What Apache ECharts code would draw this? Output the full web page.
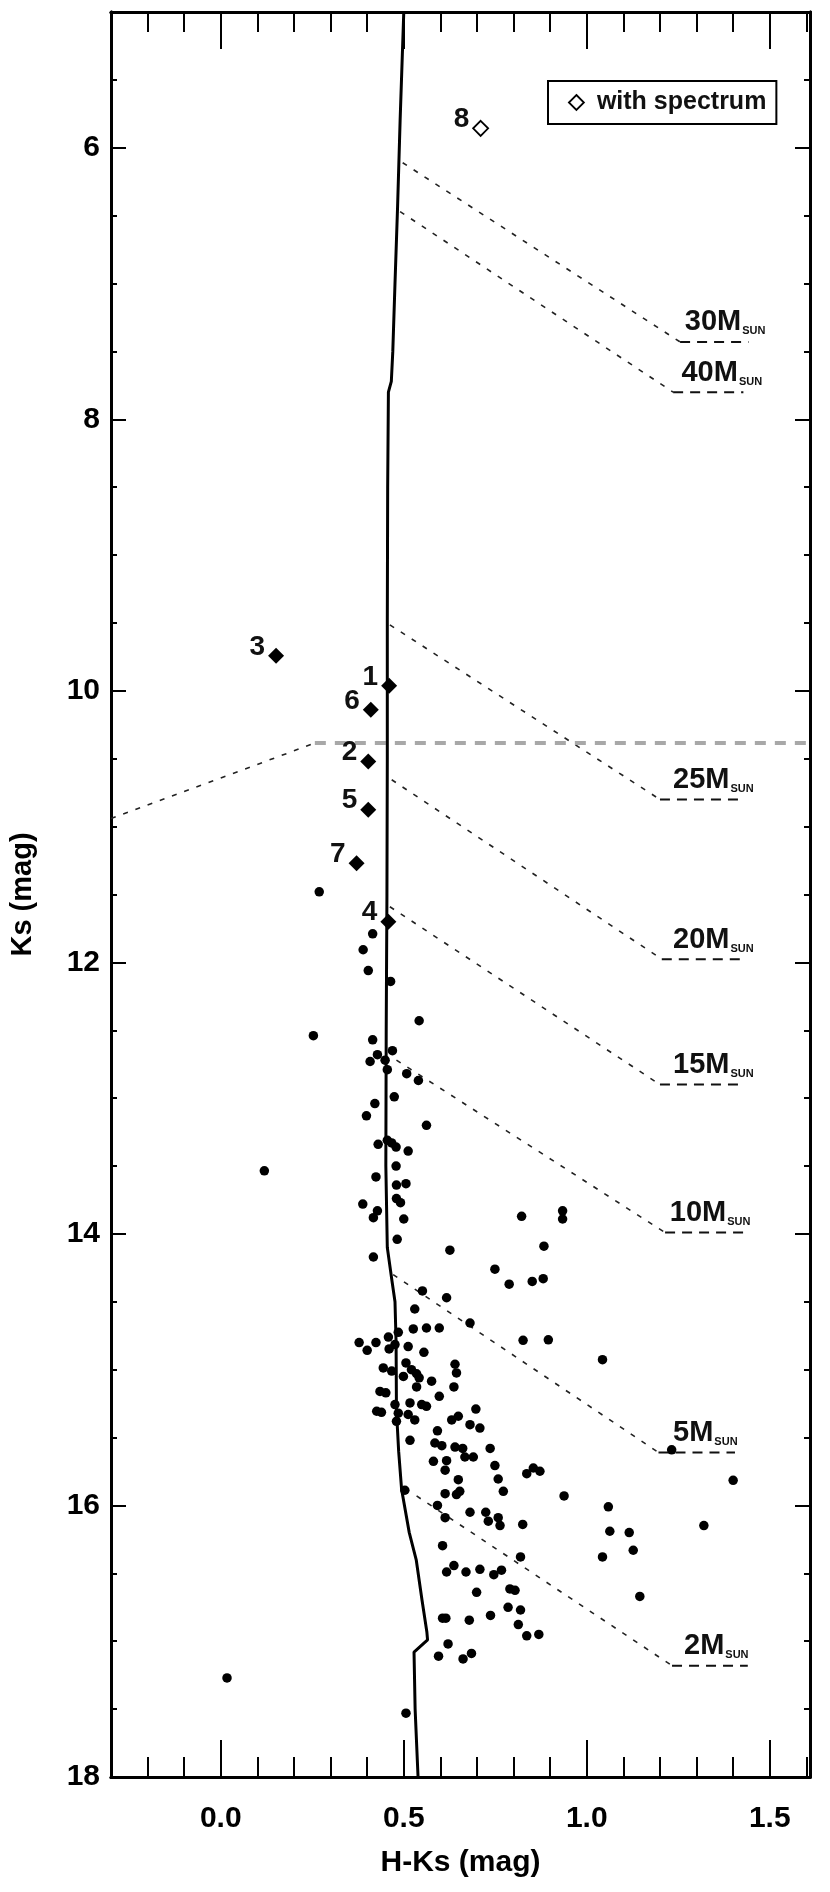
<!DOCTYPE html>
<html>
<head>
<meta charset="utf-8">
<script src="https://cdn.jsdelivr.net/npm/echarts@6/dist/echarts.min.js"></script>
<style>
html,body{margin:0;padding:0;background:#fff;}
#chart{width:830px;height:1892px;}
</style>
</head>
<body>
<div id="chart"></div>
<script>
// ---------------- data ----------------
const xRange = [-0.3, 1.61];
const yRange = [5, 18];
const xMajorTicks = [0.0, 0.5, 1.0, 1.5];
const xMinorTicks = [-0.2,-0.1,0.1,0.2,0.3,0.4,0.6,0.7,0.8,0.9,1.1,1.2,1.3,1.4,1.6];
const yMajorTicks = [6, 8, 10, 12, 14, 16, 18];
const yMinorTicks = [5.5,6.5,7,7.5,8.5,9,9.5,10.5,11,11.5,12.5,13,13.5,14.5,15,15.5,16.5,17,17.5];

// isochrone (H-Ks, Ks)
const isochrone = [[0.500,5.0],[0.490,5.8],[0.483,6.44],[0.476,7.0],[0.470,7.5],[0.466,7.72],[0.458,7.8],
  [0.456,8.5],[0.455,9.5],[0.455,10.5],[0.454,11.5],[0.452,12.5],[0.451,13.5],[0.455,14.1],[0.468,14.35],
  [0.476,14.5],[0.479,14.8],[0.480,15.3],[0.486,15.6],[0.494,15.88],[0.515,16.2],[0.534,16.4],[0.550,16.7],
  [0.563,16.93],[0.565,16.99],[0.528,17.08],[0.531,17.5],[0.539,18.0]];

// mass tracks
const massNames   = ['30', '40', '25', '20', '15', '10', '5', '2'];
const trackStartX = [0.497, 0.490, 0.462, 0.467, 0.462, 0.480, 0.471, 0.535];
const trackStartK = [6.11, 6.47, 9.514, 10.655, 11.59, 12.72, 14.30, 15.93];
const trackEndX   = [1.255, 1.236, 1.200, 1.205, 1.200, 1.214, 1.196, 1.233];
const trackEndK   = [7.43, 7.80, 10.80, 11.976, 12.90, 13.99, 15.61, 17.18];
const underlineEndX = [1.442, 1.428, 1.430, 1.430, 1.430, 1.430, 1.405, 1.440];
const massLabelX  = [1.268, 1.259, 1.236, 1.236, 1.236, 1.227, 1.236, 1.266];

// foreground extinction limit lines
const greyLimit = [[0.257, 10.385], [1.61, 10.385]];
const leftLimit = [[-0.3, 10.94], [0.257, 10.385]];

// numbered stars (filled diamonds)
const starNames = ['1','2','3','4','5','6','7'];
const starX = [0.460, 0.403, 0.151, 0.458, 0.403, 0.410, 0.371];
const starK = [9.963, 10.52, 9.742, 11.70, 10.876, 10.14, 11.27];
// star with spectrum
const specNames = ['8'];
const specX = [0.710];
const specK = [5.857];

// field stars
const fieldStars = [
[0.269,11.48],[0.119,13.535],
[0.415,11.79],[0.389,11.907],[0.403,12.06],[0.464,12.14],[0.542,12.43],[0.253,12.54],[0.415,12.57],[0.469,12.65],
[0.428,12.68],[0.408,12.73],[0.449,12.72],[0.455,12.79],[0.508,12.82],[0.540,12.87],[0.474,12.99],[0.421,13.04],
[0.398,13.13],[0.562,13.20],[0.430,13.34],[0.455,13.31],[0.467,13.33],[0.479,13.36],[0.512,13.39],[0.479,13.50],
[0.424,13.58],[0.480,13.64],[0.506,13.63],[0.388,13.78],[0.480,13.74],[0.491,13.77],[0.428,13.83],[0.417,13.88],
[0.500,13.89],[0.822,13.87],[0.934,13.83],[0.934,13.89],[0.482,14.04],[0.883,14.09],[0.626,14.12],[0.417,14.17],
[0.749,14.26],[0.788,14.37],[0.851,14.35],[0.881,14.33],[0.551,14.42],[0.617,14.47],
[0.530,14.553],[0.681,14.656],[0.562,14.693],[0.597,14.693],[0.526,14.70],[0.485,14.725],[0.458,14.76],[0.378,14.80],
[0.424,14.80],[0.476,14.815],[0.512,14.83],[0.400,14.857],[0.460,14.847],[0.555,14.872],[0.826,14.784],[0.895,14.78],
[1.043,14.926],[0.640,14.96],[0.444,14.987],[0.467,15.01],[0.506,14.95],[0.521,15.00],[0.535,15.03],[0.644,15.024],
[0.499,15.05],[0.542,15.06],[0.576,15.085],[0.535,15.127],[0.637,15.127],[0.435,15.16],[0.451,15.17],[0.597,15.196],
[0.476,15.257],[0.517,15.245],[0.549,15.257],[0.562,15.27],[0.426,15.306],[0.439,15.314],[0.485,15.32],[0.512,15.33],
[0.530,15.37],[0.480,15.38],[0.697,15.29],[0.631,15.37],[0.649,15.343],[0.681,15.405],[0.708,15.43],[0.592,15.45],
[0.517,15.52],[0.585,15.54],[0.604,15.56],[0.640,15.57],[0.661,15.58],[0.736,15.58],[1.232,15.59],[0.581,15.675],
[0.617,15.67],[0.667,15.643],[0.690,15.643],[0.749,15.706],[0.613,15.74],[0.836,15.766],[0.854,15.724],[0.872,15.748],
[0.649,15.81],[0.758,15.805],[1.400,15.815],[0.613,15.913],[0.644,15.92],[0.653,15.896],[0.772,15.896],[0.938,15.93],
[0.503,15.888],[0.592,16.0],[0.681,16.05],[0.724,16.05],[0.758,16.09],[1.059,16.01],[0.613,16.09],[0.731,16.116],
[0.763,16.148],[0.825,16.14],[1.063,16.19],[1.116,16.2],[1.320,16.148],[0.606,16.296],[1.127,16.33],[0.819,16.379],
[1.043,16.379],[0.617,16.49],[0.637,16.443],[0.670,16.49],[0.708,16.47],[0.746,16.51],[0.767,16.477],[0.699,16.64],
[0.790,16.615],[0.804,16.625],[1.145,16.67],
[0.606,16.83],[0.615,16.83],[0.679,16.845],[0.737,16.81],[0.785,16.75],[0.819,16.77],[0.813,16.877],[0.836,16.96],
[0.869,16.95],[0.621,17.02],[0.595,17.11],[0.662,17.13],[0.685,17.09],[0.017,17.27],[0.506,17.53]
];

// ---------------- chart ----------------
const FONT = '"Liberation Sans", Arial, Helvetica, sans-serif';
const chart = echarts.init(document.getElementById('chart'), null, {renderer: 'canvas'});

function xAx(pos, values, len, withLabels) {
  const a = {
    type: 'value', min: xRange[0], max: xRange[1], position: pos,
    axisLine: {show: true, onZero: false, lineStyle: {color: '#000', width: 3}},
    axisTick: {show: true, inside: true, length: len, customValues: values, lineStyle: {color: '#000', width: 2}},
    axisLabel: {show: false},
    splitLine: {show: false}
  };
  if (withLabels) {
    a.axisLabel = {show: true, customValues: xMajorTicks, formatter: v => Number(v).toFixed(1),
      fontFamily: FONT, fontSize: 30, fontWeight: 'bold', color: '#000', margin: 27};
    a.name = 'H-Ks (mag)';
    a.nameLocation = 'middle';
    a.nameGap = 71;
    a.nameTextStyle = {fontFamily: FONT, fontSize: 30, fontWeight: 'bold', color: '#000'};
  }
  return a;
}
function yAx(pos, values, len, withLabels) {
  const a = {
    type: 'value', min: yRange[0], max: yRange[1], inverse: true, position: pos,
    axisLine: {show: true, onZero: false, lineStyle: {color: '#000', width: 3}},
    axisTick: {show: true, inside: true, length: len, customValues: values, lineStyle: {color: '#000', width: 2}},
    axisLabel: {show: false},
    splitLine: {show: false}
  };
  if (withLabels) {
    a.axisLabel = {show: true, customValues: yMajorTicks, formatter: v => String(v),
      fontFamily: FONT, fontSize: 30, fontWeight: 'bold', color: '#000', margin: 11};
    a.name = 'Ks (mag)';
    a.nameLocation = 'middle';
    a.nameGap = 74;
    a.nameTextStyle = {fontFamily: FONT, fontSize: 29, fontWeight: 'bold', color: '#000'};
  }
  return a;
}

const series = [];
const thinDash = {color: '#222', width: 1.6, type: [5, 8]};
// mass track diagonals and underlines
massNames.forEach((m, i) => {
  series.push({type: 'line', name: 'track' + m, symbol: 'none', silent: true, z: 2,
    data: [[trackStartX[i], trackStartK[i]], [trackEndX[i], trackEndK[i]]],
    lineStyle: thinDash});
  series.push({type: 'line', name: 'under' + m, symbol: 'none', silent: true, z: 2,
    data: [[trackEndX[i], trackEndK[i]], [underlineEndX[i], trackEndK[i]]],
    lineStyle: {color: '#111', width: 2, type: [10, 7]}});
});
series.push({type: 'line', name: 'greyLimit', symbol: 'none', silent: true, z: 2, data: greyLimit,
  lineStyle: {color: '#a8a8a8', width: 4, type: [11, 9]}});
series.push({type: 'line', name: 'leftLimit', symbol: 'none', silent: true, z: 2, data: leftLimit,
  lineStyle: thinDash});
// mass labels
series.push({type: 'scatter', name: 'massLabels', symbolSize: 0.1, silent: true, z: 5,
  itemStyle: {color: 'rgba(0,0,0,0)', opacity: 1},
  data: massNames.map((m, i) => ({value: [massLabelX[i], trackEndK[i]], name: m})),
  label: {show: true, position: [0, 0], align: 'left', verticalAlign: 'bottom', offset: [0, -5],
    formatter: p => '{a|' + p.name + 'M}{b|SUN}',
    rich: {
      a: {fontFamily: FONT, fontSize: 29, fontWeight: 'bold', color: '#111', lineHeight: 29},
      b: {fontFamily: FONT, fontSize: 11, fontWeight: 'bold', color: '#111', verticalAlign: 'bottom', lineHeight: 15, padding: [0, 0, 0, 1]}
    }}
});
// isochrone
series.push({type: 'line', name: 'isochrone', symbol: 'none', silent: true, z: 3, data: isochrone,
  lineStyle: {color: '#000', width: 3}});
// field stars
series.push({type: 'scatter', name: 'field', symbol: 'circle', symbolSize: 9.5, z: 4,
  itemStyle: {color: '#000', opacity: 1}, data: fieldStars});
// numbered stars
series.push({type: 'scatter', name: 'numbered', symbol: 'diamond', symbolSize: 16, z: 6,
  itemStyle: {color: '#000', opacity: 1},
  data: starNames.map((n, i) => ({value: [starX[i], starK[i]], name: n})),
  label: {show: true, position: 'left', distance: 3, offset: [0, -9], formatter: '{b}',
    fontFamily: FONT, fontSize: 28, fontWeight: 'bold', color: '#111'}});
series.push({type: 'scatter', name: 'with spectrum', symbol: 'diamond', symbolSize: 15, z: 6,
  itemStyle: {color: '#fff', borderColor: '#000', borderWidth: 1.8, opacity: 1},
  data: specNames.map((n, i) => ({value: [specX[i], specK[i]], name: n})),
  label: {show: true, position: 'left', distance: 3, offset: [0, -9], formatter: '{b}',
    fontFamily: FONT, fontSize: 28, fontWeight: 'bold', color: '#111'}});

chart.setOption({
  animation: false,
  backgroundColor: '#fff',
  grid: {left: 111, top: 12, width: 699, height: 1765, containLabel: false},
  xAxis: [
    xAx('bottom', xMinorTicks, 20, false),
    xAx('bottom', xMajorTicks, 37, true),
    xAx('top', xMinorTicks, 20, false),
    xAx('top', xMajorTicks, 37, false)
  ],
  yAxis: [
    yAx('left', yMinorTicks, 6, false),
    yAx('left', yMajorTicks, 15, true),
    yAx('right', yMinorTicks, 6, false),
    yAx('right', yMajorTicks, 15, false)
  ],
  legend: {
    show: true, left: 548, top: 81, orient: 'horizontal',
    padding: [9, 10, 9, 20], borderColor: '#000', borderWidth: 2, backgroundColor: '#fff',
    itemWidth: 15, itemHeight: 15, selectedMode: false,
    data: [{name: 'with spectrum', icon: 'diamond',
      itemStyle: {color: '#fff', borderColor: '#000', borderWidth: 1.8}}],
    textStyle: {fontFamily: FONT, fontSize: 25, fontWeight: 'bold', color: '#111', padding: [0, 0, 0, 8]}
  },
  series: series
});
</script>
</body>
</html>
